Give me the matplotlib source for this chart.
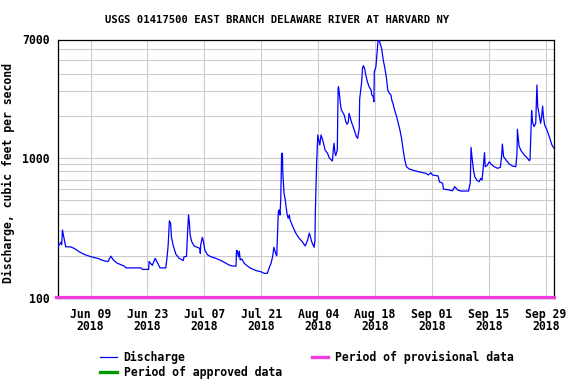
import matplotlib
matplotlib.use("Agg")
import matplotlib.pyplot as plt
from matplotlib.lines import Line2D
import pandas as pd

# discharge readings: days after 2018-06-01 and flow in cfs
days = [0.0, 0.7, 0.9, 1.1, 1.4, 1.9, 3.0, 4.0, 5.2, 6.4, 8.1, 9.7, 11.4, 12.3, 13.0, 13.6,
        14.6, 16.3, 16.7, 18.7, 20.4, 20.8, 22.3, 22.4, 23.2, 23.9, 25.1, 26.5, 26.8, 27.1,
        27.4, 27.7, 27.9, 28.3, 29.0, 29.8, 30.8, 31.0, 31.6, 31.9, 32.1, 32.3, 32.5, 32.9,
        33.5, 34.3, 34.9, 35.0, 35.1, 35.5, 35.8, 36.1, 36.8, 37.6, 38.8, 40.1, 41.3, 42.1,
        42.9, 43.8, 43.9, 44.1, 44.4, 44.6, 44.8, 45.2, 45.8, 46.6, 47.4, 48.7, 49.9, 50.7,
        51.5, 51.9, 52.4, 52.8, 53.1, 53.6, 53.8, 54.0, 54.2, 54.4, 54.6, 54.8, 55.0, 55.2,
        55.3, 55.6, 55.9, 56.2, 56.4, 56.6, 56.9, 57.1, 57.7, 58.5, 59.3, 60.1, 60.8, 61.4,
        61.8, 62.0, 62.4, 63.0, 63.2, 63.3, 63.6, 63.9, 64.4, 64.7, 65.1, 65.7, 66.3, 66.7,
        67.2, 67.5, 67.7, 67.9, 68.1, 68.3, 68.7, 68.9, 69.0, 69.2, 69.5, 69.7, 70.4, 70.8,
        71.1, 71.4, 71.6, 71.9, 72.2, 72.6, 73.0, 73.4, 73.7, 74.1, 74.2, 74.5, 74.7, 74.9,
        75.1, 75.4, 75.7, 76.1, 76.5, 77.0, 77.2, 77.5, 77.7, 77.8, 78.2, 78.4, 78.7, 79.0,
        79.2, 79.6, 80.0, 80.4, 80.8, 81.1, 81.5, 81.9, 82.1, 82.5, 82.9, 83.3, 83.7, 84.1,
        84.5, 84.9, 85.3, 85.7, 86.4, 87.2, 88.0, 89.3, 90.5, 91.1, 91.7, 92.1, 93.5, 93.8,
        94.6, 94.8, 96.2, 97.0, 97.6, 98.3, 99.1, 101.0, 101.1, 101.4, 101.6, 101.9, 102.2,
        102.5, 103.0, 103.6, 104.0, 104.3, 104.6, 104.9, 105.1, 105.5, 106.1, 106.5, 107.3,
        108.1, 108.8, 109.1, 109.3, 109.6, 110.2, 111.0, 111.8, 112.6, 112.9, 113.0, 113.4,
        113.9, 114.7, 115.5, 115.9, 116.1, 116.3, 116.5, 116.7, 117.1, 117.5, 117.8, 118.0,
        118.3, 118.7, 118.9, 119.2, 119.4, 119.7, 120.2, 120.7, 121.1, 121.5, 121.9]
flow = [232, 250, 240, 306, 274, 232, 232, 226, 214, 205, 197, 192, 184, 182, 199, 187,
        177, 169, 164, 164, 164, 160, 160, 182, 171, 192, 164, 164, 192, 239,
        356, 341, 274, 239, 205, 192, 185, 197, 198, 306, 391, 350, 282, 252,
        235, 230, 226, 208, 239, 271, 252, 220, 203, 197, 192, 185, 177, 172,
        169, 169, 218, 218, 197, 216, 187, 190, 177, 169, 163, 157, 154, 150,
        150, 163, 177, 198, 230, 206, 200, 282, 413, 425, 391, 515, 1078, 1078,
        776, 558, 501, 425, 391, 371, 391, 360, 326, 290, 267, 252, 235, 259,
        290, 280, 252, 230, 259, 413, 890, 1457, 1236, 1457, 1342, 1138, 1078, 1003,
        966, 950, 1138, 1271, 1100, 1038, 1138, 3140, 3224, 2891, 2386, 2198, 2023, 1813,
        1738, 1800, 2081, 1936, 1795, 1671, 1540, 1417, 1380, 1627, 2632, 3140, 3500, 4363,
        4550, 4363, 3906, 3500, 3224, 3052, 2812, 2750, 2519, 4121, 4477, 5276, 6749, 7000,
        6577, 6056, 5000, 4363, 3700, 3052, 2891, 2812, 2590, 2386, 2137, 1968, 1766, 1582,
        1380, 1138, 966, 865, 833, 820, 806, 789, 776, 755, 784, 755, 743, 676,
        659, 600, 590, 583, 623, 590, 580, 580, 607, 659, 1190, 966, 820,
        734, 695, 676, 715, 695, 857, 1089, 865, 880, 939, 904, 865,
        843, 855, 1020, 1256, 1020, 966, 904, 875, 865, 1078, 1600, 1216,
        1125, 1049, 994, 955, 970, 1481, 2173, 1813, 1671, 1766, 3313, 2321,
        2081, 1766, 1900, 2345, 1968, 1717, 1600, 1457, 1342, 1236, 1180]

start = pd.Timestamp("2018-06-01")
tick_dates = pd.date_range("2018-06-09", "2018-09-29", freq="14D")
tick_labels = [d.strftime("%b %d\n%Y") for d in tick_dates]
provisional_period = [pd.Timestamp("2018-05-31 12:00"), pd.Timestamp("2018-10-01")]
y_major = [100, 1000, 7000]
y_minor = [200, 300, 400, 500, 600, 700, 800, 900, 2000, 3000, 4000, 5000, 6000]

times = start + pd.to_timedelta(days, unit="D")

font = "DejaVu Sans Mono"
blue = "#0000ff"
pink = "#f03cdc"
green = "#009900"

fig = plt.figure(figsize=(5.76, 3.84), dpi=100)
ax = fig.add_axes([58 / 576, 1 - 298 / 384, 496 / 576, 258.5 / 384])

ax.plot(times, flow, color=blue, linewidth=0.9, zorder=3)
ax.plot(provisional_period, [101, 101], color=pink, linewidth=2.3, clip_on=False, zorder=4)

ax.set_yscale("log")
ax.set_ylim(100, 7000)
ax.set_xlim(start, pd.Timestamp("2018-10-01"))

ax.set_yticks(y_major)
ax.set_yticklabels([str(v) for v in y_major])
ax.set_yticks(y_minor, minor=True)
ax.yaxis.set_minor_formatter(matplotlib.ticker.NullFormatter())
ax.set_xticks(tick_dates)
ax.set_xticklabels(tick_labels, linespacing=0.95)

ax.grid(True, which="both", color="#cccccc", linewidth=0.8, zorder=0)
ax.set_axisbelow(True)
ax.tick_params(which="both", length=0)
ax.tick_params(axis="x", pad=7)
ax.tick_params(axis="y", pad=6)
for lab in ax.get_xticklabels() + ax.get_yticklabels():
    lab.set_fontfamily(font)
    lab.set_fontweight("bold")
    lab.set_fontsize(8.3)
for s in ax.spines.values():
    s.set_linewidth(0.9)

ax.set_ylabel("Discharge, cubic feet per second", fontfamily=font, fontweight="bold", fontsize=8.3)
ax.yaxis.set_label_coords(-0.087, 0.482)

fig.text(277 / 576, 1 - 20 / 384, "USGS 01417500 EAST BRANCH DELAWARE RIVER AT HARVARD NY",
         ha="center", va="center", fontfamily=font, fontweight="bold", fontsize=7.6)

handles = [Line2D([], [], color=blue, linewidth=0.9),
           Line2D([], [], color=green, linewidth=2.4),
           Line2D([], [], color=pink, linewidth=2.4)]
labels = ["Discharge", "Period of approved data", "Period of provisional data"]
fig.legend(handles, labels, ncol=2, loc="upper left", bbox_to_anchor=(100 / 576, 1 - 350.5 / 384),
           frameon=False, borderpad=0, borderaxespad=0, handlelength=1.45, handletextpad=0.6,
           columnspacing=2.6, labelspacing=0.18,
           prop={"family": font, "weight": "bold", "size": 8.3})

fig.savefig("out.png", dpi=100)
